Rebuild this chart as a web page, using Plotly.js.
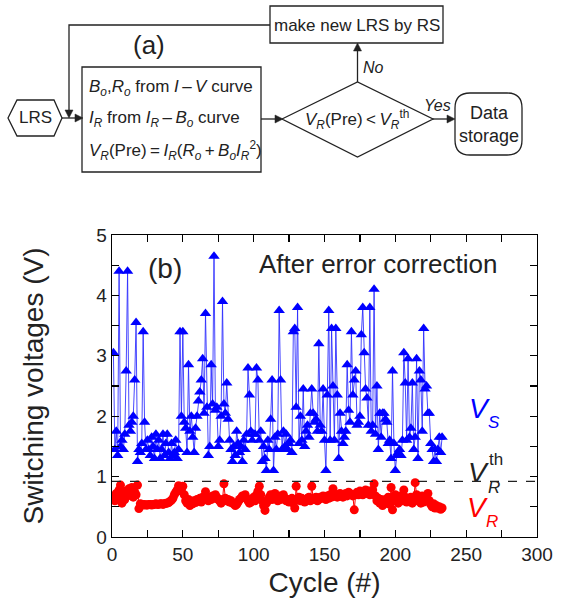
<!DOCTYPE html>
<html><head><meta charset="utf-8">
<script src="https://cdn.plot.ly/plotly-3.0.1.min.js"></script>
<style>html,body{margin:0;padding:0;background:#fff}#chart{width:575px;height:606px}</style>
</head><body><div id="chart"></div>
<script>
// Switching voltage V_S (blue triangles), one value per cycle
const vs = [
3.05,1.45,1.75,1.35,4.4,1.5,1.6,1.45,1.7,2.75,
4.4,1.85,1.75,1.9,2.0,2.6,3.55,1.25,1.45,1.4,
1.55,3.4,1.9,1.45,1.6,1.45,1.35,1.65,1.5,1.3,
1.7,1.45,1.6,1.3,1.45,1.7,1.35,1.55,1.7,1.4,
1.3,1.55,1.35,1.4,1.6,1.3,1.45,3.4,2.0,3.4,
1.9,1.8,1.4,2.85,1.75,2.0,1.65,1.4,1.8,2.0,
2.25,2.4,2.6,2.95,2.05,3.7,2.15,1.35,1.5,2.85,
2.2,4.65,2.1,2.15,1.5,1.6,2.0,3.9,2.2,2.05,
2.55,1.95,1.6,1.45,1.25,1.5,1.35,1.75,1.55,1.4,
1.5,1.25,1.6,1.45,1.7,2.8,2.35,1.75,1.6,1.7,
1.7,2.8,2.6,1.6,1.75,1.25,1.5,1.3,1.1,1.6,
1.45,1.95,2.6,1.1,1.65,1.45,1.7,3.75,2.6,1.45,
1.75,1.5,1.7,1.45,1.55,1.6,1.4,3.4,3.45,2.15,
3.8,1.55,2.0,1.6,2.45,1.5,1.75,1.85,1.65,2.05,
2.45,2.05,1.9,1.95,1.75,3.2,1.85,1.75,2.45,1.6,
1.1,2.35,3.75,1.6,3.45,2.5,1.6,3.45,2.35,1.3,
2.05,1.75,1.55,1.65,1.75,2.85,2.1,1.9,3.4,2.35,
2.6,2.75,1.85,1.9,2.0,3.35,3.8,3.05,2.45,2.3,
1.85,3.8,1.75,1.85,4.1,1.7,2.5,1.45,2.05,1.65,
2.05,2.05,1.95,1.9,1.55,1.6,1.3,2.75,1.55,1.1,
1.35,1.4,1.45,1.35,1.6,3.05,2.55,1.6,2.95,1.65,
1.8,2.55,1.45,1.65,2.95,1.3,2.75,2.6,1.75,3.45,
2.45,2.5,2.05,2.05,1.55,1.45,1.25,1.45,1.25,1.45,
1.65,1.4,1.65
];
// Reset voltage V_R (red circles), one value per cycle
const vr = [
0.67,0.6,0.72,0.65,0.78,0.86,0.56,0.7,0.62,0.76,
0.68,0.8,0.72,0.82,0.66,0.74,0.7,0.86,0.47,0.55,
0.54,0.53,0.54,0.53,0.53,0.54,0.54,0.53,0.54,0.54,
0.55,0.54,0.54,0.55,0.55,0.54,0.55,0.56,0.56,0.57,
0.59,0.61,0.64,0.7,0.74,0.78,0.85,0.82,0.76,0.84,
0.7,0.6,0.56,0.62,0.52,0.58,0.55,0.6,0.57,0.62,
0.6,0.64,0.58,0.66,0.62,0.75,0.64,0.6,0.66,0.62,
0.68,0.64,0.7,0.66,0.62,0.6,0.56,0.62,0.88,0.64,
0.6,0.62,0.58,0.6,0.56,0.55,0.52,0.54,0.58,0.62,
0.64,0.68,0.66,0.7,0.64,0.6,0.56,0.58,0.62,0.66,
0.6,0.7,0.76,0.84,0.7,0.6,0.52,0.44,0.56,0.6,
0.66,0.7,0.62,0.66,0.72,0.64,0.6,0.68,0.62,0.66,
0.7,0.64,0.6,0.62,0.58,0.6,0.64,0.56,0.48,0.84,
0.62,0.66,0.6,0.64,0.62,0.58,0.6,0.64,0.66,0.6,
0.84,0.64,0.62,0.66,0.6,0.62,0.66,0.64,0.68,0.66,
0.62,0.68,0.64,0.7,0.66,0.8,0.68,0.7,0.66,0.68,
0.72,0.7,0.66,0.7,0.72,0.68,0.74,0.72,0.7,0.68,
0.45,0.7,0.74,0.7,0.76,0.72,0.7,0.74,0.78,0.72,
0.76,0.7,0.74,0.78,0.88,0.68,0.6,0.64,0.56,0.62,
0.52,0.58,0.62,0.56,0.66,0.54,0.82,0.45,0.62,0.7,
0.6,0.56,0.64,0.68,0.6,0.78,0.66,0.58,0.64,0.6,
0.66,0.56,0.62,0.9,0.7,0.6,0.64,0.56,0.68,0.58,
0.62,0.66,0.72,0.6,0.54,0.5,0.55,0.48,0.52,0.48,
0.5,0.46,0.48
];
const vrThreshold = 0.92;
const cycles = vs.map((_, i) => i + 1);
const xTickVals = [0, 50, 100, 150, 200, 250, 300];
const yTickVals = [0, 1, 2, 3, 4, 5];

// layout geometry (pixels) and converters to paper coordinates
const W = 575, H = 606, ML = 112, MR = 38, MT = 235, MB = 69;
const PW = W - ML - MR, PH = H - MT - MB;
const px = x => (x - ML) / PW;
const py = y => (H - MB - y) / PH;
const path = pts => pts.map((p, i) => (i ? 'L' : 'M') + px(p[0]).toFixed(5) + ',' + py(p[1]).toFixed(5)).join(' ') + ' Z';
const FONT = 'Liberation Sans, Arial, sans-serif';
const INK = '#222';
const ln = {color: INK, width: 1.3};
const TS = '\u2009';

const shapes = [];
const annotations = [];
function rect(x0, y0, x1, y1) {
  shapes.push({type: 'rect', xref: 'paper', yref: 'paper', x0: px(x0), x1: px(x1), y0: py(y1), y1: py(y0), line: ln, fillcolor: 'rgba(0,0,0,0)'});
}
function poly(pts, fill) {
  shapes.push({type: 'path', xref: 'paper', yref: 'paper', path: path(pts), line: fill ? {color: INK, width: 0.5} : ln, fillcolor: fill ? INK : 'rgba(0,0,0,0)'});
}
function seg(pts) {
  shapes.push({type: 'path', xref: 'paper', yref: 'paper',
    path: pts.map((p, i) => (i ? 'L' : 'M') + px(p[0]).toFixed(5) + ',' + py(p[1]).toFixed(5)).join(' '), line: ln});
}
function head(x, y, dir) { // filled arrowhead, tip at (x,y)
  const a = 8, b = 4;
  if (dir === 'right') poly([[x, y], [x - a, y - b], [x - a, y + b]], true);
  if (dir === 'down') poly([[x, y], [x - b, y - a], [x + b, y - a]], true);
  if (dir === 'up') poly([[x, y], [x - b, y + a], [x + b, y + a]], true);
}
function txt(x, y, text, size, opts) {
  annotations.push(Object.assign({xref: 'paper', yref: 'paper', x: px(x), y: py(y), text: text, showarrow: false,
    xanchor: 'center', yanchor: 'middle', font: {family: FONT, size: size, color: INK}}, opts || {}));
}

// ---- flowchart (a) ----
rect(270, 6, 443, 43);
txt(356.5, 25, 'make new LRS by RS', 17);
seg([[270, 25], [69, 25], [69, 110]]);
head(69, 118, 'down');
poly([[8, 118], [17, 100], [54, 100], [62, 118], [54, 136], [17, 136]]);
txt(35, 118, 'LRS', 17);
seg([[62, 118], [76, 118]]);
head(83, 118, 'right');
rect(82, 67, 261, 172);
txt(87, 88, '<i>B<sub>o</sub></i>,<i>R<sub>o</sub></i> from <i>I</i>' + TS + '–' + TS + '<i>V</i> curve', 17, {xanchor: 'left'});
txt(87, 119, '<i>I<sub>R</sub></i> from <i>I<sub>R</sub></i>' + TS + '–' + TS + '<i>B<sub>o</sub></i> curve', 17, {xanchor: 'left'});
txt(87, 151, '<i>V<sub>R</sub></i>(Pre)' + TS + '=' + TS + '<i>I<sub>R</sub></i>(<i>R<sub>o</sub></i>' + TS + '+' + TS + '<i>B<sub>o</sub>I<sub>R</sub></i><sup>2</sup>)', 17, {xanchor: 'left'});
seg([[261, 119], [276, 119]]);
head(283, 119, 'right');
poly([[282, 119], [357.5, 82], [433, 119], [357.5, 157]]);
txt(357, 120, '<i>V<sub>R</sub></i>(Pre)' + TS + '&lt;' + TS + '<i>V<sub>R</sub></i><sup>th</sup>', 17);
seg([[357.5, 82], [357.5, 50]]);
head(357.5, 43, 'up');
txt(373, 68, '<i>No</i>', 16);
txt(437, 105, '<i>Yes</i>', 16);
seg([[433, 119], [448, 119]]);
head(455, 119, 'right');
(function () {
  const x0 = 455, x1 = 522, y0 = 93, y1 = 155, r = 15;
  const P = (x, y) => px(x).toFixed(5) + ',' + py(y).toFixed(5);
  shapes.push({type: 'path', xref: 'paper', yref: 'paper', line: ln,
    path: 'M' + P(x0 + r, y0) + ' L' + P(x1 - r, y0) + ' Q' + P(x1, y0) + ' ' + P(x1, y0 + r) +
      ' L' + P(x1, y1 - r) + ' Q' + P(x1, y1) + ' ' + P(x1 - r, y1) + ' L' + P(x0 + r, y1) +
      ' Q' + P(x0, y1) + ' ' + P(x0, y1 - r) + ' L' + P(x0, y0 + r) + ' Q' + P(x0, y0) + ' ' + P(x0 + r, y0) + ' Z'});
})();
txt(488.5, 124, 'Data<br>storage', 18);
txt(149, 45, '(a)', 26);

// ---- plot (b) labels ----
txt(165, 268, '(b)', 28);
txt(378, 264, 'After error correction', 26);
txt(479, 408, '<i>V</i>', 28, {font: {family: FONT, size: 28, color: '#0000ff'}});
txt(494, 422, '<i>S</i>', 17, {font: {family: FONT, size: 17, color: '#0000ff'}});
txt(478, 472, '<i>V</i>', 28);
txt(496, 459, 'th', 17);
txt(494, 487, '<i>R</i>', 17);
txt(477, 507, '<i>V</i>', 28, {font: {family: FONT, size: 28, color: '#ff0000'}});
txt(492, 521, '<i>R</i>', 17, {font: {family: FONT, size: 17, color: '#ff0000'}});

shapes.push({type: 'line', xref: 'paper', yref: 'y', x0: 0, x1: 1, y0: vrThreshold, y1: vrThreshold,
  line: {color: INK, width: 1.3, dash: 'dash'}});

const traces = [
  {x: cycles, y: vs, mode: 'lines+markers', type: 'scatter', name: 'V_S',
   line: {color: 'rgba(40,40,255,0.85)', width: 1},
   marker: {symbol: 'triangle-up', size: 10, color: '#0000ff'}},
  {x: cycles, y: vr, mode: 'lines+markers', type: 'scatter', name: 'V_R',
   line: {color: '#ff0000', width: 1},
   marker: {symbol: 'circle', size: 9, color: '#ff0000'}}
];

const axisCommon = {showline: true, linecolor: '#000', linewidth: 1.3, mirror: 'ticks', ticks: 'inside',
  ticklen: 7, tickwidth: 1.3, tickcolor: '#000', showgrid: false, zeroline: false,
  tickfont: {family: FONT, size: 19, color: INK}};

const layout = {
  width: W, height: H, margin: {l: ML, r: MR, t: MT, b: MB}, showlegend: false,
  paper_bgcolor: '#fff', plot_bgcolor: '#fff',
  xaxis: Object.assign({}, axisCommon, {range: [0, 300], tickvals: xTickVals,
    minor: {dtick: 25, ticklen: 7, tickwidth: 1.3, tickcolor: '#000', ticks: 'inside'},
    title: {text: 'Cycle (#)', font: {family: FONT, size: 28, color: INK}, standoff: 8}}),
  yaxis: Object.assign({}, axisCommon, {range: [0, 5], tickvals: yTickVals,
    minor: {dtick: 0.5, ticklen: 7, tickwidth: 1.3, tickcolor: '#000', ticks: 'inside'},
    ticksuffix: '\u00a0\u00a0', automargin: true,
    title: {text: 'Switching voltages (V)', font: {family: FONT, size: 28, color: INK}, standoff: 44}}),
  shapes: shapes, annotations: annotations
};

Plotly.newPlot('chart', traces, layout, {staticPlot: true, displayModeBar: false});
</script>
</body></html>
